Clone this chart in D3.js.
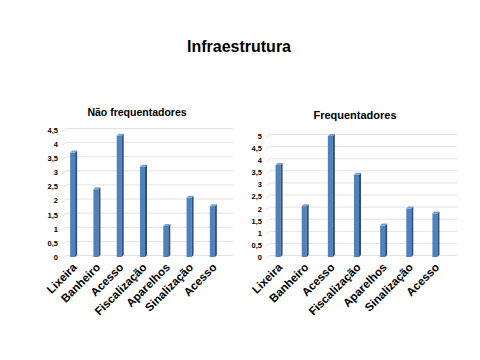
<!DOCTYPE html>
<html><head><meta charset="utf-8">
<script src="https://cdn.jsdelivr.net/npm/d3@7"></script>
<style>body{margin:0;background:#fff}svg{display:block}text{font-family:"Liberation Sans",Arial,sans-serif}</style>
</head><body>
<svg id="c" width="480" height="360"></svg>
<script>
const categories = ["Lixeira","Banheiro","Acesso","Fiscalização","Aparelhos","Sinalização","Acesso"];
const naoFrequentadores = [3.7, 2.4, 4.3, 3.2, 1.1, 2.1, 1.8];
const frequentadores = [3.8, 2.1, 5.0, 3.4, 1.3, 2.0, 1.8];
const ticksLeft = [0,0.5,1,1.5,2,2.5,3,3.5,4,4.5];
const ticksRight = [0,0.5,1,1.5,2,2.5,3,3.5,4,4.5,5];
const fmt = v => String(v).replace(".", ",");

const svg = d3.select("#c");
svg.append("text").attr("x",239).attr("y",52).attr("text-anchor","middle")
  .attr("font-size",16).attr("font-weight","bold").text("Infraestrutura");

function panel(opts){
  const g = svg.append("g");
  const x = d3.scaleBand().domain(d3.range(categories.length)).range([opts.x0, opts.x1]);
  const y = d3.scaleLinear().domain([0, opts.max]).range([opts.y0, opts.yTop]);
  g.append("text").attr("x",opts.tx).attr("y",opts.ty).attr("text-anchor","middle")
    .attr("font-size",opts.tfs).attr("font-weight","bold").text(opts.title);
  opts.ticks.forEach(t=>{
    g.append("line").attr("x1",opts.gx0).attr("x2",opts.gx1).attr("y1",y(t)-1.5).attr("y2",y(t)-1.5)
      .attr("stroke","#e3e3e3").attr("stroke-width",1);
    g.append("line").attr("x1",opts.gx0-4).attr("x2",opts.gx0).attr("y1",y(t)+1.5).attr("y2",y(t)-1.5)
      .attr("stroke","#e3e3e3").attr("stroke-width",1);
  });
  const axis = d3.axisLeft(y).tickValues(opts.ticks).tickFormat(fmt).tickSize(0).tickPadding(0);
  const ag = g.append("g").attr("transform",`translate(${opts.lx},0)`).call(axis);
  ag.select(".domain").remove();
  ag.selectAll("text").attr("font-size",7.5).attr("font-weight","bold").attr("fill","#000")
    .attr("font-family","Liberation Sans, Arial, sans-serif");
  const bw = 5, sd = 2;
  opts.values.forEach((v,i)=>{
    const cx = x(i)+x.bandwidth()/2;
    const xl = cx - bw/2, yt = y(v), yb = y(0);
    g.append("rect").attr("x",xl).attr("y",yt).attr("width",bw).attr("height",yb-yt).attr("fill","#4f81bd");
    g.append("path").attr("d",`M${xl+bw},${yt} L${xl+bw+sd},${yt-sd} L${xl+bw+sd},${yb-sd} L${xl+bw},${yb} Z`).attr("fill","#2f4f7a");
    g.append("path").attr("d",`M${xl},${yt} L${xl+sd},${yt-sd} L${xl+bw+sd},${yt-sd} L${xl+bw},${yt} Z`).attr("fill","#7aa0d0");
    g.append("text").attr("transform",`translate(${cx+5},${yb+11}) rotate(-45)`)
      .attr("text-anchor","end").attr("font-size",11.5).attr("font-weight","bold").text(categories[i]);
  });
}

panel({values:naoFrequentadores, ticks:ticksLeft, max:4.5, x0:61, x1:224, y0:257, yTop:130,
  gx0:66, gx1:233, lx:58, title:"Não frequentadores", tx:137, ty:116, tfs:10.5});
panel({values:frequentadores, ticks:ticksRight, max:5, x0:265, x1:448, y0:257, yTop:136,
  gx0:270, gx1:457, lx:262, title:"Frequentadores", tx:355, ty:119, tfs:11});
</script>
</body></html>
